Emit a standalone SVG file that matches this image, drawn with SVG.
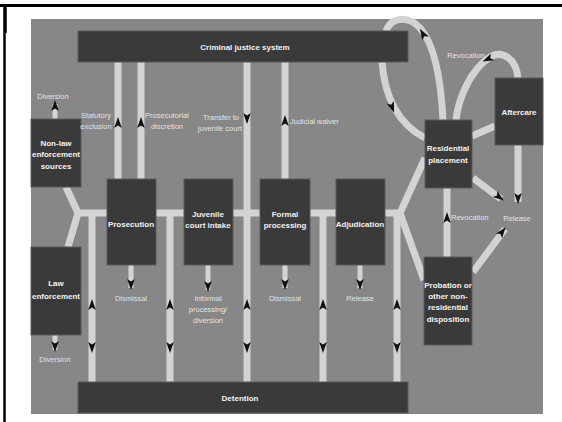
<svg xmlns="http://www.w3.org/2000/svg" xmlns:xlink="http://www.w3.org/1999/xlink" width="562" height="422" viewBox="0 0 562 422">
<style>
.bg{fill:#878787}
.box{fill:#3a3a3a;stroke:#5a5a5a;stroke-width:1}
.bt{fill:#f2f2f2;font-family:"Liberation Sans",Arial,sans-serif;font-size:8px;font-weight:bold;text-anchor:middle}
.lb{fill:#e2e2e2;font-family:"Liberation Sans",Arial,sans-serif;font-size:7.5px}
.mid{text-anchor:middle}
.end{text-anchor:end}
.c{fill:none;stroke:#d3d3d3;stroke-width:7;stroke-linejoin:round}
.s{fill:none;stroke:#d3d3d3;stroke-width:5}
.ah{fill:#111}
</style>
<defs>
<path id="ah" class="ah" d="M0,-6 L3.8,5 L0,2.5 L-3.8,5 Z"/>
</defs>
<rect x="0" y="0" width="562" height="422" fill="#fff"/>
<line x1="0" y1="5.5" x2="562" y2="5.5" stroke="#000" stroke-width="3"/>
<line x1="5" y1="4" x2="5" y2="33" stroke="#000" stroke-width="3.5"/>
<line x1="4.5" y1="33" x2="4.5" y2="422" stroke="#000" stroke-width="2.5"/>
<rect class="bg" x="31" y="19" width="512" height="395"/>

<g id="connectors">
  <path class="c" d="M66,187 L78,213 L68,247 M78,213 H107 M156,213 H184 M233,213 H260 M310,213 H336 M385,213 H400 L425,158 M400,213 L424,280"/>
  <path class="c" d="M92,213 V382 M170,213 V382 M247,62 V382 M323,213 V382 M397,213 V382 M118,62 V179 M141,62 V179 M285,62 V179"/>
  <path class="c" d="M382,62 C385,100 400,125 425,138"/>
  <path class="c" d="M443,120 C441,80 435,45 420,28 C410,17 392,15 386,31"/>
  <path class="c" d="M518,78 C516,58 502,50 490,57 C470,70 458,100 456,120"/>
  <path class="c" d="M472,136 L495,126" stroke-width="10"/>
  <path class="c" d="M473,178 L501,199 M518,145 V202 M473,272 L505,229 M447,257 V188"/>
  <path class="s" d="M131,265 V288 M208,265 V290 M285,265 V288 M360,265 V288 M55,335 V350 M55,119 V104"/>
  <g>
    <use xlink:href="#ah" transform="translate(92,305)"/>
    <use xlink:href="#ah" transform="translate(92,347) rotate(180)"/>
    <use xlink:href="#ah" transform="translate(170,305)"/>
    <use xlink:href="#ah" transform="translate(170,347) rotate(180)"/>
    <use xlink:href="#ah" transform="translate(247,305)"/>
    <use xlink:href="#ah" transform="translate(247,347) rotate(180)"/>
    <use xlink:href="#ah" transform="translate(323,305)"/>
    <use xlink:href="#ah" transform="translate(323,347) rotate(180)"/>
    <use xlink:href="#ah" transform="translate(397,305)"/>
    <use xlink:href="#ah" transform="translate(397,347) rotate(180)"/>
    <use xlink:href="#ah" transform="translate(118,123)"/>
    <use xlink:href="#ah" transform="translate(141,123)"/>
    <use xlink:href="#ah" transform="translate(247,118) rotate(180)"/>
    <use xlink:href="#ah" transform="translate(285,121)"/>
    <use xlink:href="#ah" transform="translate(131,284) rotate(180)"/>
    <use xlink:href="#ah" transform="translate(208,286) rotate(180)"/>
    <use xlink:href="#ah" transform="translate(285,284) rotate(180)"/>
    <use xlink:href="#ah" transform="translate(360,284) rotate(180)"/>
    <use xlink:href="#ah" transform="translate(55,346) rotate(180)"/>
    <use xlink:href="#ah" transform="translate(55,106)"/>
    <use xlink:href="#ah" transform="translate(392,107) rotate(160)"/>
    <use xlink:href="#ah" transform="translate(423,34) rotate(-30)"/>
    <use xlink:href="#ah" transform="translate(488,59) rotate(-115)"/>
    <use xlink:href="#ah" transform="translate(499,197) rotate(127)"/>
    <use xlink:href="#ah" transform="translate(518,198) rotate(180)"/>
    <use xlink:href="#ah" transform="translate(502,232) rotate(37)"/>
    <use xlink:href="#ah" transform="translate(447,218)"/>
  </g>
</g>

<g id="cjs"><rect class="box" x="78" y="31" width="330" height="31"/><text class="bt" x="245" y="50">Criminal justice system</text></g>
<g id="detention"><rect class="box" x="78" y="382" width="330" height="31"/><text class="bt" x="240" y="401">Detention</text></g>
<g id="nonlaw"><rect class="box" x="31" y="119" width="50" height="68"/><text class="bt" x="56" y="146">Non-law</text><text class="bt" x="56" y="157">enforcement</text><text class="bt" x="56" y="169">sources</text></g>
<g id="law"><rect class="box" x="31" y="247" width="50" height="88"/><text class="bt" x="56" y="286">Law</text><text class="bt" x="56" y="299">enforcement</text></g>
<g id="prosecution"><rect class="box" x="107" y="179" width="49" height="86"/><text class="bt" x="131" y="227">Prosecution</text></g>
<g id="intake"><rect class="box" x="184" y="179" width="49" height="86"/><text class="bt" x="208" y="217">Juvenile</text><text class="bt" x="208" y="228">court intake</text></g>
<g id="formal"><rect class="box" x="260" y="179" width="50" height="86"/><text class="bt" x="285" y="217">Formal</text><text class="bt" x="285" y="228">processing</text></g>
<g id="adjudication"><rect class="box" x="336" y="179" width="49" height="86"/><text class="bt" x="360" y="227">Adjudication</text></g>
<g id="residential"><rect class="box" x="425" y="120" width="47" height="68"/><text class="bt" x="448" y="151">Residential</text><text class="bt" x="448" y="163">placement</text></g>
<g id="aftercare"><rect class="box" x="495" y="78" width="48" height="67"/><text class="bt" x="519" y="115">Aftercare</text></g>
<g id="probation"><rect class="box" x="424" y="257" width="48" height="88"/><text class="bt" x="448" y="288">Probation or</text><text class="bt" x="448" y="299">other non-</text><text class="bt" x="448" y="310">residential</text><text class="bt" x="448" y="322">disposition</text></g>

<g id="labels">
  <text class="lb mid" x="53" y="99">Diversion</text>
  <text class="lb mid" x="96" y="118">Statutory</text>
  <text class="lb mid" x="96" y="129">exclusion</text>
  <text class="lb mid" x="167" y="118">Prosecutorial</text>
  <text class="lb mid" x="167" y="129">discretion</text>
  <text class="lb mid" x="221" y="120">Transfer to</text>
  <text class="lb end" x="242" y="131">juvenile court</text>
  <text class="lb" x="290" y="124">Judicial waiver</text>
  <text class="lb mid" x="131" y="301">Dismissal</text>
  <text class="lb mid" x="208" y="301">Informal</text>
  <text class="lb mid" x="208" y="312">processing/</text>
  <text class="lb mid" x="208" y="323">diversion</text>
  <text class="lb mid" x="285" y="301">Dismissal</text>
  <text class="lb mid" x="360" y="301">Release</text>
  <text class="lb mid" x="55" y="362">Diversion</text>
  <text class="lb mid" x="466" y="58">Revocation</text>
  <text class="lb" x="451" y="220">Revocation</text>
  <text class="lb mid" x="517" y="221">Release</text>
</g>
</svg>
